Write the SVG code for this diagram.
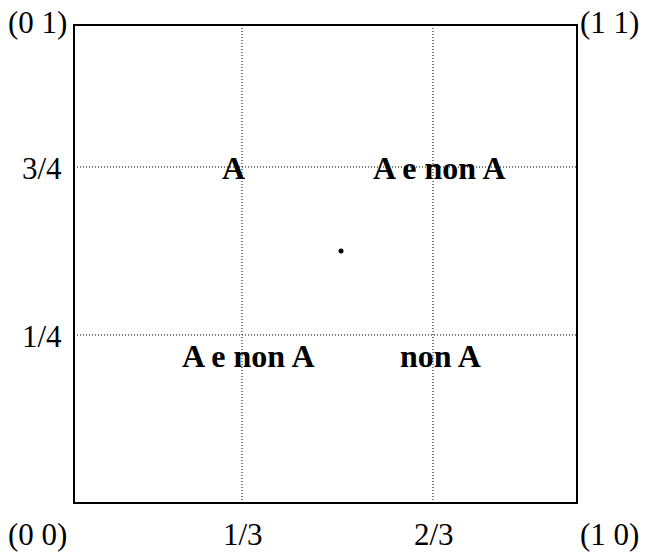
<svg xmlns="http://www.w3.org/2000/svg" width="647" height="553" viewBox="0 0 647 553">
<style>
.lbl{font-family:"Liberation Serif","Times New Roman",serif;font-size:31px;fill:#000}
.b{font-family:"Liberation Serif","Times New Roman",serif;font-size:32px;font-weight:bold;fill:#000}
.dot{stroke:#000;stroke-width:1;stroke-dasharray:1 2;fill:none}
</style>
<rect width="647" height="553" fill="#fff"/>
<g id="labels">
<text class="lbl" x="8" y="33">(0 1)</text>
<text class="lbl" x="580" y="33">(1 1)</text>
<text class="lbl" x="22" y="179">3/4</text>
<text class="lbl" x="22" y="347">1/4</text>
<text class="lbl" x="8" y="545">(0 0)</text>
<text class="lbl" x="223" y="545">1/3</text>
<text class="lbl" x="414" y="545">2/3</text>
<text class="lbl" x="580" y="545">(1 0)</text>
</g>
<g id="regions">
<text class="b" x="222" y="179">A</text>
<text class="b" x="373" y="179">A e non A</text>
<text class="b" x="182" y="367">A e non A</text>
<text class="b" x="400" y="367">non A</text>
</g>
<g id="grid">
<line class="dot" x1="242" y1="25" x2="242" y2="503"/>
<line class="dot" x1="433" y1="25" x2="433" y2="503"/>
<line class="dot" x1="74" y1="167" x2="577" y2="167"/>
<line class="dot" x1="74" y1="335" x2="577" y2="335"/>
</g>
<g id="frame">
<rect x="74" y="25" width="503" height="478" fill="none" stroke="#000" stroke-width="2"/>
</g>
<g id="point"><circle cx="341" cy="251" r="2.5" fill="#000"/></g>
</svg>
